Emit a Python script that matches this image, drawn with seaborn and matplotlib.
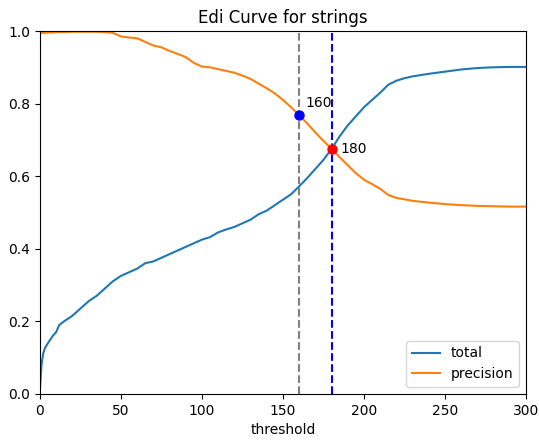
import matplotlib
matplotlib.use("Agg")
import matplotlib.pyplot as plt
import seaborn as sns
import pandas as pd

threshold = [0, 1, 2, 3, 5, 8, 10, 12, 15, 20, 25, 30, 35, 40, 45, 50, 55, 60, 65, 70,
             75, 80, 85, 90, 95, 100, 105, 110, 115, 120, 125, 130, 135, 140, 145, 150,
             155, 160, 165, 170, 175, 180, 185, 190, 195, 200, 205, 210, 215, 220, 225,
             230, 240, 250, 260, 270, 280, 290, 300]
total = [0.01, 0.08, 0.11, 0.125, 0.14, 0.16, 0.17, 0.19, 0.20, 0.215, 0.235, 0.255, 0.27,
         0.29, 0.31, 0.325, 0.335, 0.345, 0.36, 0.365, 0.375, 0.385, 0.395, 0.405, 0.415,
         0.425, 0.432, 0.445, 0.453, 0.46, 0.47, 0.48, 0.495, 0.505, 0.52, 0.535, 0.55,
         0.572, 0.595, 0.62, 0.645, 0.675, 0.71, 0.74, 0.765, 0.79, 0.81, 0.83, 0.852,
         0.863, 0.87, 0.875, 0.882, 0.888, 0.894, 0.898, 0.9, 0.901, 0.901]
precision = [0.993, 0.995, 0.995, 0.995, 0.996, 0.996, 0.997, 0.997, 0.997, 0.998, 0.998,
             0.998, 0.998, 0.997, 0.995, 0.985, 0.982, 0.98, 0.97, 0.96, 0.955, 0.945,
             0.937, 0.928, 0.912, 0.902, 0.9, 0.895, 0.89, 0.885, 0.877, 0.868, 0.855,
             0.842, 0.828, 0.81, 0.79, 0.768, 0.745, 0.72, 0.697, 0.675, 0.652, 0.63,
             0.608, 0.59, 0.578, 0.565, 0.548, 0.54, 0.536, 0.532, 0.527, 0.523, 0.52,
             0.518, 0.517, 0.516, 0.516]

mark_x = [160, 180]
mark_y = [0.768, 0.675]
mark_colors = ["blue", "red"]
mark_labels = ["160", "180"]
vline_colors = ["gray", "blue"]

df = pd.DataFrame({"threshold": threshold, "total": total, "precision": precision})
long = df.melt(id_vars="threshold", var_name="series", value_name="value")

fig = plt.figure(figsize=(5.39, 4.43), dpi=100)
ax = fig.add_axes([0.074, 0.111, 0.902, 0.819])
sns.lineplot(data=long, x="threshold", y="value", hue="series",
             palette=["#1f77b4", "#ff7f0e"], ax=ax, linewidth=1.5)

for xv, c in zip(mark_x, vline_colors):
    ax.axvline(xv, color=c, linestyle="--", linewidth=1.5)

offsets = [(6, 12), (9, 0)]
for xv, yv, c, lab, off in zip(mark_x, mark_y, mark_colors, mark_labels, offsets):
    ax.plot([xv], [yv], "o", color=c, markersize=6.5, zorder=5)
    ax.annotate(lab, (xv, yv), xytext=off, textcoords="offset pixels",
                va="center", ha="left", fontsize=10)

ax.set_xlim(0, 300)
ax.set_ylim(0, 1.0)
ax.set_xlabel("threshold")
ax.set_ylabel("")
ax.set_title("Edi Curve for strings")
ax.legend(loc="lower right", title=None)

fig.savefig("out.png", dpi=100)
